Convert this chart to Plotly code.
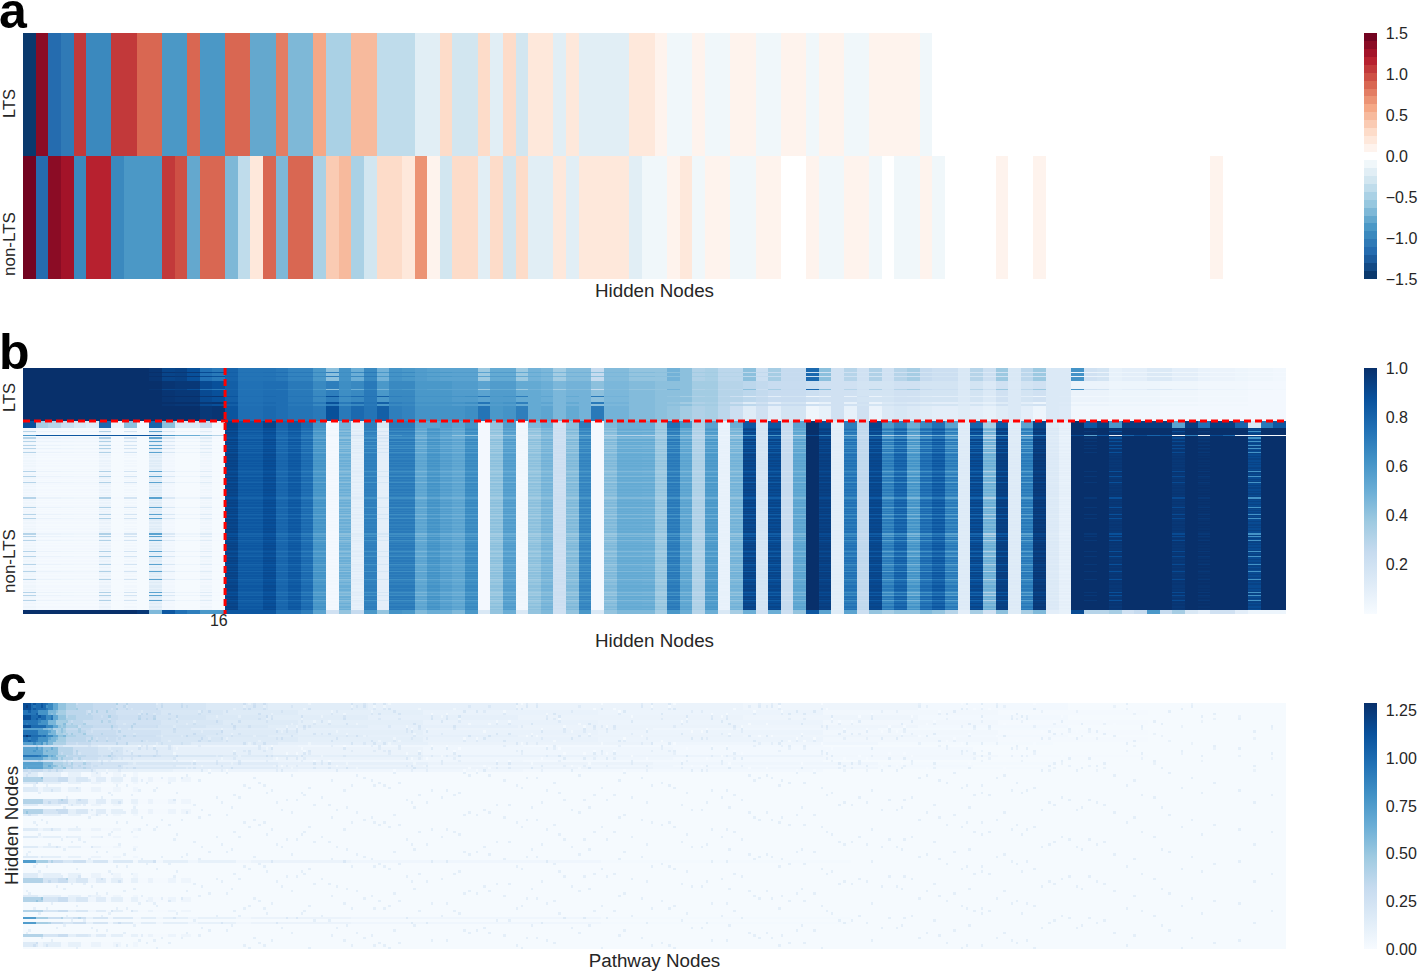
import numpy as np
import plotly.graph_objects as go
from plotly.colors import sample_colorscale

W, H = 1418, 971
FONT = "Liberation Sans, Arial, sans-serif"
INK = "#262626"

# ---------- panel a: mean activation per hidden node ----------
a_rows = ["LTS", "non-LTS"]
a_lts = [-1.5, 1.4, -1.2, -1.1, 1.1, -1.0, -1.0, 1.05, 1.05, 0.9,
         0.9, -0.85, -0.85, 0.9, -0.85, -0.85, 0.85, 0.85, -0.75, -0.75,
         0.8, -0.7, -0.7, 0.55, -0.5, -0.5, 0.45, 0.45, -0.35, -0.35,
         -0.35, -0.22, -0.22, 0.3, -0.25, -0.25, 0.3, -0.22, 0.3, -0.25,
         0.2, 0.2, -0.18, 0.2, -0.17, -0.17, -0.17, -0.17, 0.2, 0.2,
         0.1, -0.1, -0.1, 0.1, -0.1, -0.1, 0.1, 0.1, -0.08, -0.08,
         0.1, 0.1, -0.08, 0.1, 0.1, -0.08, -0.08, 0.1, 0.1, 0.1,
         0.1, -0.1, 0, 0, 0, 0, 0, 0, 0, 0,
         0, 0, 0, 0, 0, 0, 0, 0, 0, 0,
         0, 0, 0, 0, 0, 0, 0, 0, 0, 0]
a_non = [1.5, -1.15, 1.35, 1.25, -1.0, 1.12, 1.12, -0.95, -0.85, -0.85,
         -0.85, 1.05, 0.92, -0.75, 0.9, 0.9, -0.7, -0.42, 0.15, 0.85,
         -0.7, 0.85, 0.85, -0.5, 0.4, 0.5, -0.45, -0.32, 0.3, 0.3,
         0.2, 0.7, 0.1, -0.25, 0.25, 0.25, -0.15, 0.25, -0.25, 0.3,
         -0.15, -0.15, 0.2, -0.17, 0.2, 0.2, 0.2, 0.2, -0.15, -0.07,
         -0.07, 0.1, 0.2, -0.1, 0.1, 0.1, -0.1, -0.1, 0.1, 0.1,
         0, 0, 0.1, -0.08, -0.08, 0.1, 0.1, -0.08, 0, -0.07,
         -0.07, 0.1, -0.08, 0, 0, 0, 0, 0.1, 0, 0,
         0.1, 0, 0, 0, 0, 0, 0, 0, 0, 0,
         0, 0, 0, 0, 0.1, 0, 0, 0, 0, 0]

# ---------- panel b: per-column activation profiles ----------
b_lts_top = [1, 1, 1, 1, 1, 1, 1, 1, 1, 1,
             .98, .92, .93, .88, .75, .72, .8, .74, .74, .74,
             .72, .68, .68, .6, .42, .62, .5, .66, .48, .62,
             .6, .58, .56, .55, .55, .55, .38, .52, .52, .38,
             .48, .46, .36, .44, .44, .25, .44, .44, .4, .4,
             .4, .48, .42, .32, .34, .28, .28, .42, .22, .35,
             .25, .25, .78, .42, .2, .3, .2, .32, .2, .3,
             .35, .25, .22, .22, .15, .3, .22, .38, .15, .28,
             .38, .14, .14, .62, .2, .18, .08, .1, .1, .14,
             .14, .1, .1, .07, .06, .06, .05, .04, .04, .03]
b_lts_mid = [1, 1, 1, 1, 1, 1, 1, 1, 1, 1,
             1, .98, .97, .97, .9, .88, .82, .75, .75, .76,
             .76, .72, .72, .66, .7, .64, .66, .72, .6, .66,
             .66, .6, .6, .6, .58, .58, .55, .58, .58, .52,
             .52, .5, .46, .48, .48, .42, .46, .46, .44, .44,
             .42, .42, .42, .36, .36, .3, .3, .28, .26, .24,
             .24, .24, .22, .2, .2, .2, .18, .18, .18, .2,
             .2, .18, .18, .18, .14, .18, .14, .2, .14, .18,
             .2, .14, .14, .06, .06, .06, .05, .05, .05, .05,
             .04, .04, .04, .03, .03, .03, .03, .02, .02, .02]
b_lts_low = [1, 1, 1, 1, 1, 1, 1, 1, 1, 1,
             1, 1, 1, 1, .97, .98, .86, .76, .76, .78,
             .76, .74, .74, .72, .88, .72, .78, .74, .82, .7,
             .68, .62, .62, .62, .62, .64, .74, .6, .62, .7,
             .52, .54, .46, .52, .48, .72, .48, .48, .44, .44,
             .42, .4, .36, .32, .34, .28, .22, .12, .2, .1,
             .18, .18, .04, .08, .2, .08, .2, .06, .14, .16,
             .14, .12, .1, .1, .12, .1, .08, .12, .14, .1,
             .05, .14, .13, .03, .03, .03, .03, .03, .03, .03,
             .02, .02, .02, .02, .02, .02, .02, .02, .02, .02]
b_non_top = [.88, .35, .3, .22, .15, .12, .78, .06, .42, .02,
             .8, .42, .14, .14, .25, .04, .93, .85, .85, .92,
             .8, .85, .78, .62, .02, .48, .1, .7, .15, .72,
             .72, .55, .55, .58, .55, .62, .02, .4, .58, .03,
             .45, .5, .2, .42, .7, .02, .45, .5, .5, .5,
             .38, .75, .6, .33, .55, .07, .5, .85, .17, .85,
             .25, .55, 1, .9, .1, .7, .27, .92, .6, .7,
             .5, .65, .75, .55, .12, .8, .35, .85, .12, .55,
             .92, .12, .08, 1, .85, .95, .6, .95, .95, .95,
             .95, .55, .95, .75, .95, .95, .8, .15, .72, .85]
b_non_main = [.04, .02, .02, .02, .02, .02, .06, .01, .03, .01,
              .12, .03, .01, .01, .04, .01, .93, .85, .85, .9,
              .8, .85, .78, .62, .02, .5, .08, .7, .1, .72,
              .72, .55, .62, .58, .55, .66, .02, .42, .58, .03,
              .42, .48, .2, .45, .68, .02, .45, .52, .52, .52,
              .4, .72, .55, .33, .6, .07, .48, .93, .17, .92,
              .25, .55, 1, .95, .1, .75, .27, .92, .72, .82,
              .62, .78, .85, .72, .12, .92, .5, .95, .12, .72,
              .97, .13, .08, 1, 1, 1, .97, 1, 1, 1,
              1, .97, 1, .99, 1, 1, 1, .9, 1, 1]
b_non_alt = [.02, .01, .01, .01, .01, .01, .03, .01, .01, .01,
             .08, .02, .01, .01, .02, .01, .91, .83, .83, .88,
             .78, .83, .75, .59, .03, .46, .1, .68, .09, .69,
             .69, .52, .59, .55, .52, .63, .02, .39, .55, .04,
             .39, .45, .22, .42, .65, .02, .42, .5, .5, .49,
             .37, .69, .52, .31, .57, .08, .45, .9, .18, .89,
             .24, .52, 1, .93, .11, .71, .26, .9, .66, .77,
             .56, .73, .8, .66, .13, .88, .45, .93, .13, .67,
             .95, .14, .09, 1, 1, 1, .98, 1, 1, 1,
             1, .98, 1, 1, 1, 1, 1, .93, 1, 1]
b_non_stripe = [.3, .06, .06, .05, .04, .04, .32, .02, .18, .01,
                .55, .15, .05, .05, .12, .02, .88, .8, .8, .85,
                .74, .78, .7, .54, .02, .42, .12, .62, .16, .64,
                .64, .46, .54, .5, .48, .58, .02, .36, .5, .04,
                .36, .42, .22, .38, .6, .02, .38, .45, .45, .45,
                .34, .62, .46, .28, .5, .08, .4, .84, .16, .83,
                .2, .46, 1, .9, .1, .64, .24, .84, .55, .65,
                .46, .62, .72, .55, .12, .8, .32, .86, .12, .55,
                .92, .12, .07, 1, .97, 1, .88, 1, 1, 1,
                1, .9, 1, .97, 1, 1, 1, .62, 1, 1]
b_non_line = [.6, .85, .85, .85, .85, .85, .85, .85, .85, .85,
              .85, .6, .5, .5, .4, .3, .9, .8, .8, .85,
              .75, .8, .7, .55, .05, .5, .2, .65, .2, .6,
              .65, .45, .55, .5, .4, .4, .02, .3, .4, .05,
              .3, .4, .2, .35, .5, .02, .3, .3, .3, .3,
              .3, .5, .4, .25, .4, .05, .3, .6, .15, .6,
              .15, .3, .9, .7, .1, .45, .2, .6, .3, .4,
              .3, .4, .5, .4, .1, .6, .2, .6, .1, .3,
              .7, .1, .05, .9, .55, .85, .05, .8, .9, .8,
              .85, 0, .7, .1, .9, .8, .1, 0, 0, 0]
b_non_bottom = [1, 1, 1, 1, 1, 1, 1, 1, 1, .97,
                .45, .85, .75, .7, .6, .6, .85, .85, .85, .85,
                .75, .75, .7, .55, .2, .4, .25, .6, .4, .62,
                .6, .45, .5, .5, .45, .6, .15, .4, .5, .15,
                .4, .45, .2, .4, .6, .15, .4, .45, .45, .45,
                .35, .6, .5, .3, .5, .15, .35, .5, .2, .5,
                .22, .4, .85, .55, .12, .55, .22, .4, .35, .4,
                .4, .45, .4, .3, .1, .35, .2, .42, .12, .35,
                .45, .1, .08, .9, .3, .3, .35, .2, .25, .6,
                .25, .35, .15, .1, .2, .2, .1, .05, .05, .05]
b_lts_runs = [("top", 4), ("mid", 1), ("top", 3), ("mid", 1), ("top", 4), ("mid", 8), ("top", 1), ("mid", 6),
              ("low", 1), ("mid", 5), ("low", 2), ("mid", 2), ("low", 15)]
b_non_runs = [("top", 7), ("alt", 1), ("main", 1), ("alt", 1), ("stripe", 1), ("main", 1), ("alt", 2), ("line", 1),
              ("alt", 1), ("stripe", 2), ("main", 2), ("stripe", 1), ("main", 1), ("alt", 1), ("main", 1),
              ("stripe", 1), ("alt", 2), ("stripe", 1), ("main", 1), ("alt", 1), ("main", 1), ("stripe", 1),
              ("alt", 1), ("main", 2), ("alt", 1), ("main", 1), ("alt", 2), ("main", 2), ("alt", 1), ("main", 1),
              ("alt", 1), ("main", 2), ("alt", 2), ("main", 1), ("alt", 1),
              ("stripe", 1), ("alt", 2), ("main", 1), ("alt", 1), ("stripe", 1), ("main", 2), ("alt", 1),
              ("main", 1), ("alt", 1), ("stripe", 1),
              ("main", 2), ("alt", 1), ("main", 1), ("alt", 2), ("main", 2), ("alt", 1), ("main", 1), ("alt", 2),
              ("main", 1), ("alt", 1),
              ("stripe", 2), ("alt", 1), ("main", 1), ("alt", 1), ("main", 2), ("alt", 1), ("main", 2), ("stripe", 1),
              ("alt", 1), ("main", 1), ("alt", 1), ("main", 1), ("alt", 1), ("main", 1), ("stripe", 1), ("alt", 1),
              ("main", 1), ("alt", 1), ("stripe", 1),
              ("main", 2), ("alt", 1), ("main", 2), ("alt", 2), ("main", 1), ("alt", 1), ("main", 2), ("alt", 1),
              ("main", 2),
              ("stripe", 2), ("alt", 1), ("stripe", 1), ("main", 1), ("alt", 1), ("main", 1), ("stripe", 1), ("alt", 2),
              ("main", 1), ("alt", 1), ("main", 2), ("alt", 1), ("main", 2), ("alt", 1), ("stripe", 1), ("alt", 1),
              ("main", 1), ("alt", 2), ("stripe", 1), ("main", 2), ("alt", 1), ("main", 2), ("alt", 1), ("main", 1),
              ("stripe", 1), ("alt", 2), ("main", 1), ("alt", 2), ("main", 1), ("stripe", 1), ("main", 2), ("alt", 1),
              ("main", 2), ("alt", 1), ("main", 1), ("stripe", 1), ("alt", 2), ("main", 1), ("alt", 2), ("main", 1),
              ("main", 2), ("alt", 1), ("main", 2), ("alt", 1), ("stripe", 1), ("alt", 2), ("stripe", 1), ("main", 2),
              ("alt", 1), ("main", 1), ("stripe", 1), ("alt", 2), ("main", 1), ("alt", 2), ("main", 2), ("alt", 1),
              ("main", 1), ("bottom", 4)]
b_split_node = 16

# ---------- panel c: hidden-to-pathway weights, (value, run of pathway nodes) ----------
c_profiles = {
    "s1": [(1.15, 3), (1.0, 6), (.85, 3), (.68, 2), (.52, 3), (.42, 4), (.36, 7), (.32, 10), (.27, 15), (.22, 20),
           (.18, 25), (.14, 40), (.11, 60), (.08, 90), (.06, 70), (.03, 60), (.014, 87)],
    "s2": [(.95, 6), (.8, 4), (.6, 3), (.45, 4), (.36, 8), (.3, 12), (.25, 18), (.2, 25), (.16, 30), (.12, 50),
           (.09, 70), (.07, 90), (.04, 70), (.02, 60), (.014, 55)],
    "s3": [(.72, 8), (.58, 4), (.42, 5), (.32, 10), (.25, 15), (.2, 25), (.15, 35), (.11, 60), (.08, 90), (.05, 90),
           (.025, 70), (.014, 93)],
    "m": [(.7, 8), (.55, 6), (.38, 6), (.28, 10), (.22, 10), (.15, 20), (.11, 40), (.08, 60), (.05, 100), (.03, 120),
          (.012, 125)],
    "m2": [(.32, 8), (.24, 8), (.16, 14), (.1, 30), (.07, 50), (.05, 90), (.03, 120), (.014, 185)],
    "stripe": [(.4, 8), (.22, 6), (.3, 4), (.12, 3), (.2, 5), (.05, 3), (.15, 4), (.03, 2), (.12, 5), (.02, 3),
               (.1, 3), (.02, 4), (.08, 2), (.02, 6), (.07, 3), (.015, 2), (.06, 4), (.012, 438)],
    "hi": [(.75, 5), (.45, 5), (.3, 6), (.2, 4), (.28, 5), (.1, 3), (.22, 6), (.05, 2), (.18, 8), (.04, 3),
           (.14, 6), (.04, 3), (.12, 10), (.05, 4), (.1, 15), (.04, 6), (.08, 40), (.05, 100), (.025, 100), (.012, 174)],
    "weak": [(.16, 6), (.06, 2), (.12, 7), (.03, 3), (.1, 5), (.02, 4), (.08, 4), (.02, 5), (.06, 3), (.015, 5),
             (.05, 2), (.012, 459)],
    "base": [(.012, 505)],
}
c_row_runs = [("s1", 3), ("s2", 2), ("s1", 2), ("s2", 2), ("s1", 1), ("s3", 1), ("s2", 2), ("s1", 1), ("s2", 2),
              ("s3", 1), ("m2", 1), ("m", 3), ("s2", 1), ("m", 1), ("m2", 1), ("s3", 1), ("m", 1), ("s3", 1),
              ("m2", 1), ("weak", 2), ("stripe", 2), ("weak", 1), ("base", 1), ("weak", 2), ("base", 3),
              ("stripe", 2), ("weak", 1), ("base", 1), ("stripe", 2), ("weak", 1), ("base", 5), ("weak", 1),
              ("base", 2), ("weak", 1), ("base", 3), ("weak", 1), ("base", 3), ("weak", 1), ("base", 1),
              ("hi", 1), ("base", 4), ("weak", 2), ("stripe", 2), ("base", 5), ("weak", 1), ("stripe", 2),
              ("base", 3), ("stripe", 1), ("base", 2), ("hi", 1), ("base", 1), ("hi", 1), ("base", 4),
              ("stripe", 1), ("base", 2), ("weak", 2), ("base", 1)]
# pathway nodes with a small extra weight, read as scattered pale cells
c_specks = [
    [4, 9, 37, 41, 88, 96, 131, 140, 144, 197, 251, 258, 302, 377, 383, 441],
    [15, 22, 60, 105, 109, 153, 216, 224, 233, 287, 346, 352, 418, 426],
    [2, 29, 33, 74, 81, 148, 176, 181, 240, 309, 316, 372, 458],
    [11, 46, 52, 99, 128, 163, 169, 209, 275, 281, 339, 395, 401, 486],
    [19, 24, 68, 116, 122, 189, 194, 263, 326, 331, 364, 412, 432],
    [7, 55, 63, 92, 136, 201, 205, 247, 294, 299, 358, 389, 467],
    [35, 43, 84, 112, 158, 172, 228, 236, 284, 321, 380, 386, 447, 499],
    [13, 27, 71, 103, 125, 184, 219, 267, 271, 343, 349, 407, 421],
    [5, 49, 58, 94, 142, 150, 212, 255, 306, 312, 369, 397, 476],
    [17, 31, 77, 86, 119, 167, 243, 279, 334, 355, 415, 452],
    [1, 40, 65, 107, 133, 178, 186, 222, 290, 297, 361, 392, 436],
    [21, 53, 90, 114, 146, 199, 231, 260, 319, 375, 404, 463],
    [10, 38, 79, 101, 155, 161, 207, 249, 273, 328, 337, 410, 429, 492],
    [26, 47, 70, 123, 139, 192, 238, 292, 303, 366, 444],
    [6, 34, 61, 97, 111, 174, 214, 265, 323, 383, 399, 471],
    [16, 44, 83, 129, 156, 203, 226, 282, 311, 351, 378, 423, 455],
]
c_speck_of_row = [0, 5, 11, 2, 8, 14, 3, 9, 15, 6, 1, 12, 4, 10, 7, 13, 0, 8, 3, 11, 6, 14, 1, 9, 4, 12, 15, 7,
                  2, 10, 5, 13, 8, 0, 11, 3, 14, 6, 9, 1, 12, 4, 15, 7, 10, 2, 13, 5, 0, 8, 11, 3, 6, 14,
                  9, 1, 4, 12, 7, 15, 2, 10, 5, 13, 3, 8, 0, 11, 14, 6, 1, 9, 12, 4, 7, 15, 10, 2, 13, 5,
                  8, 3, 11, 0, 6, 14, 9, 1, 4, 12, 15, 7, 2, 10, 13, 5, 3, 8, 0, 11]
c_speck_weight = 0.11
c_dense_rows = 28          # the strongly weighted top rows carry more texture


def expand_runs(runs, table):
    return np.array([table[name] for name, n in runs for _ in range(n)], dtype=float)


def expand_profile(runs):
    return [v for v, n in runs for _ in range(n)]


b_z = np.vstack([
    expand_runs(b_lts_runs, {"top": b_lts_top, "mid": b_lts_mid, "low": b_lts_low}),
    expand_runs(b_non_runs, {"top": b_non_top, "main": b_non_main, "alt": b_non_alt, "stripe": b_non_stripe,
                             "line": b_non_line, "bottom": b_non_bottom}),
])
b_lts_count = sum(n for _, n in b_lts_runs)

c_z = expand_runs(c_row_runs, {k: expand_profile(v) for k, v in c_profiles.items()})
for r, k in enumerate(c_speck_of_row[:c_z.shape[0]]):
    for col in c_specks[k]:
        c_z[r, col] += c_speck_weight
    if r < c_dense_rows:
        for col in c_specks[(k + 5) % 16]:
            c_z[r, col] += c_speck_weight * .7
        for col in c_specks[(k + 11) % 16]:
            c_z[r, col] = max(c_z[r, col] - c_speck_weight * .5, 0.01)

# ---------- colour scales ----------
rdbu_stops = [[0, "rgb(5,48,97)"], [.1, "rgb(33,102,172)"], [.2, "rgb(67,147,195)"], [.3, "rgb(146,197,222)"],
              [.4, "rgb(209,229,240)"], [.5, "rgb(255,255,255)"], [.6, "rgb(253,219,199)"], [.7, "rgb(244,165,130)"],
              [.8, "rgb(214,96,77)"], [.9, "rgb(178,24,43)"], [1, "rgb(103,0,31)"]]
LEVELS = 31
rdbu_stepped = []
for i in range(LEVELS):
    col = sample_colorscale(rdbu_stops, [(i + .5) / LEVELS])[0]
    rdbu_stepped += [[i / LEVELS, col], [(i + 1) / LEVELS, col]]


# ---------- pixel helpers for the layout ----------
def dom_x(a, b):
    return [a / W, b / W]


def dom_y(top, bottom):
    return [1 - bottom / H, 1 - top / H]


def colorbar(top, bottom, tickvals, fmt=None):
    cb = dict(x=1364 / W, xanchor="left", y=1 - bottom / H, yanchor="bottom", len=(bottom - top) / H,
              lenmode="fraction", thickness=13, thicknessmode="pixels", xpad=0, ypad=0, outlinewidth=0,
              tickvals=tickvals, ticks="outside", ticklen=6, tickcolor="rgba(0,0,0,0)",
              tickfont=dict(family=FONT, size=16, color=INK))
    if fmt:
        cb["tickformat"] = fmt
    return cb


X_L, X_R = 23, 1286
PANELS = {"a": (33, 279), "b": (368, 614), "c": (703, 949)}

fig = go.Figure()
fig.add_trace(go.Heatmap(z=[a_lts, a_non], y=a_rows, xaxis="x", yaxis="y", zmin=-1.5, zmax=1.5,
                         colorscale=rdbu_stepped, colorbar=colorbar(33, 279, [-1.5, -1, -.5, 0, .5, 1, 1.5], ".1f")))
fig.add_trace(go.Heatmap(z=b_z, xaxis="x2", yaxis="y2", zmin=0, zmax=1, colorscale="Blues",
                         colorbar=colorbar(368, 614, [.2, .4, .6, .8, 1], ".1f")))
fig.add_trace(go.Heatmap(z=c_z, xaxis="x3", yaxis="y3", zmin=0, zmax=1.29, colorscale="Blues",
                         colorbar=colorbar(703, 949, [0, .25, .5, .75, 1, 1.25], ".2f")))

hidden = dict(showgrid=False, zeroline=False, showline=False, ticks="", showticklabels=False)
title_font = dict(family=FONT, size=18.8, color=INK)


def xaxis(title, standoff, anchor, **kw):
    d = dict(hidden, domain=dom_x(X_L, X_R), anchor=anchor,
             title=dict(text=title, font=title_font, standoff=standoff))
    d.update(kw)
    return d


fig.update_layout(
    width=W, height=H, autosize=False, margin=dict(l=0, r=0, t=0, b=0),
    paper_bgcolor="white", plot_bgcolor="white", showlegend=False,
    font=dict(family=FONT, color=INK),
    xaxis=xaxis("Hidden Nodes", 4, "y", range=[-.5, 99.5]),
    yaxis=dict(hidden, domain=dom_y(*PANELS["a"]), anchor="x", autorange="reversed"),
    xaxis2=xaxis("Hidden Nodes", 5, "y2", range=[-.5, 99.5], showticklabels=True, tickvals=[b_split_node - 1],
                 ticktext=[str(b_split_node)], ticklabelstandoff=-5,
                 tickfont=dict(family=FONT, size=16, color=INK)),
    yaxis2=dict(hidden, domain=dom_y(*PANELS["b"]), anchor="x2", range=[b_z.shape[0] - .5, -.5]),
    xaxis3=xaxis("Pathway Nodes", 5, "y3", range=[-.5, c_z.shape[1] - .5]),
    yaxis3=dict(hidden, domain=dom_y(*PANELS["c"]), anchor="x3", range=[c_z.shape[0] - .5, -.5]),
)

# dashed separators of panel b, in data coordinates
red = dict(color="#ff0000", width=3, dash="7px,4px")
fig.add_shape(type="line", xref="x2", yref="y2", x0=-.5, x1=99.5, y0=b_lts_count - .5, y1=b_lts_count - .5, line=red)
fig.add_shape(type="line", xref="x2", yref="y2", x0=b_split_node - .5, x1=b_split_node - .5, y0=-.5,
              y1=b_z.shape[0] - .5, line=red)


def note(text, x_px, y_px, size, angle=0, bold=False, color=INK, xanchor="center", yanchor="middle"):
    label = f"<b>{text}</b>" if bold else text
    fig.add_annotation(text=label, xref="paper", yref="paper", x=x_px / W, y=1 - y_px / H, showarrow=False,
                       textangle=angle, xanchor=xanchor, yanchor=yanchor, borderpad=0, borderwidth=0,
                       font=dict(family=FONT, size=size, color=color))


note("a", -1, 39, 50, bold=True, color="black", xanchor="left", yanchor="bottom")
note("b", -1, 380, 50, bold=True, color="black", xanchor="left", yanchor="bottom")
note("c", -1, 712, 50, bold=True, color="black", xanchor="left", yanchor="bottom")
note("LTS", 9, 104, 16.5, angle=-90)
note("non-LTS", 9, 244, 17, angle=-90)
note("LTS", 9, 398, 16.5, angle=-90)
note("non-LTS", 9, 561, 17, angle=-90)
note("Hidden Nodes", 11, 826, 18.8, angle=-90)

fig.write_html("out.html", config=dict(displayModeBar=False), post_script="document.body.style.margin='0';")
